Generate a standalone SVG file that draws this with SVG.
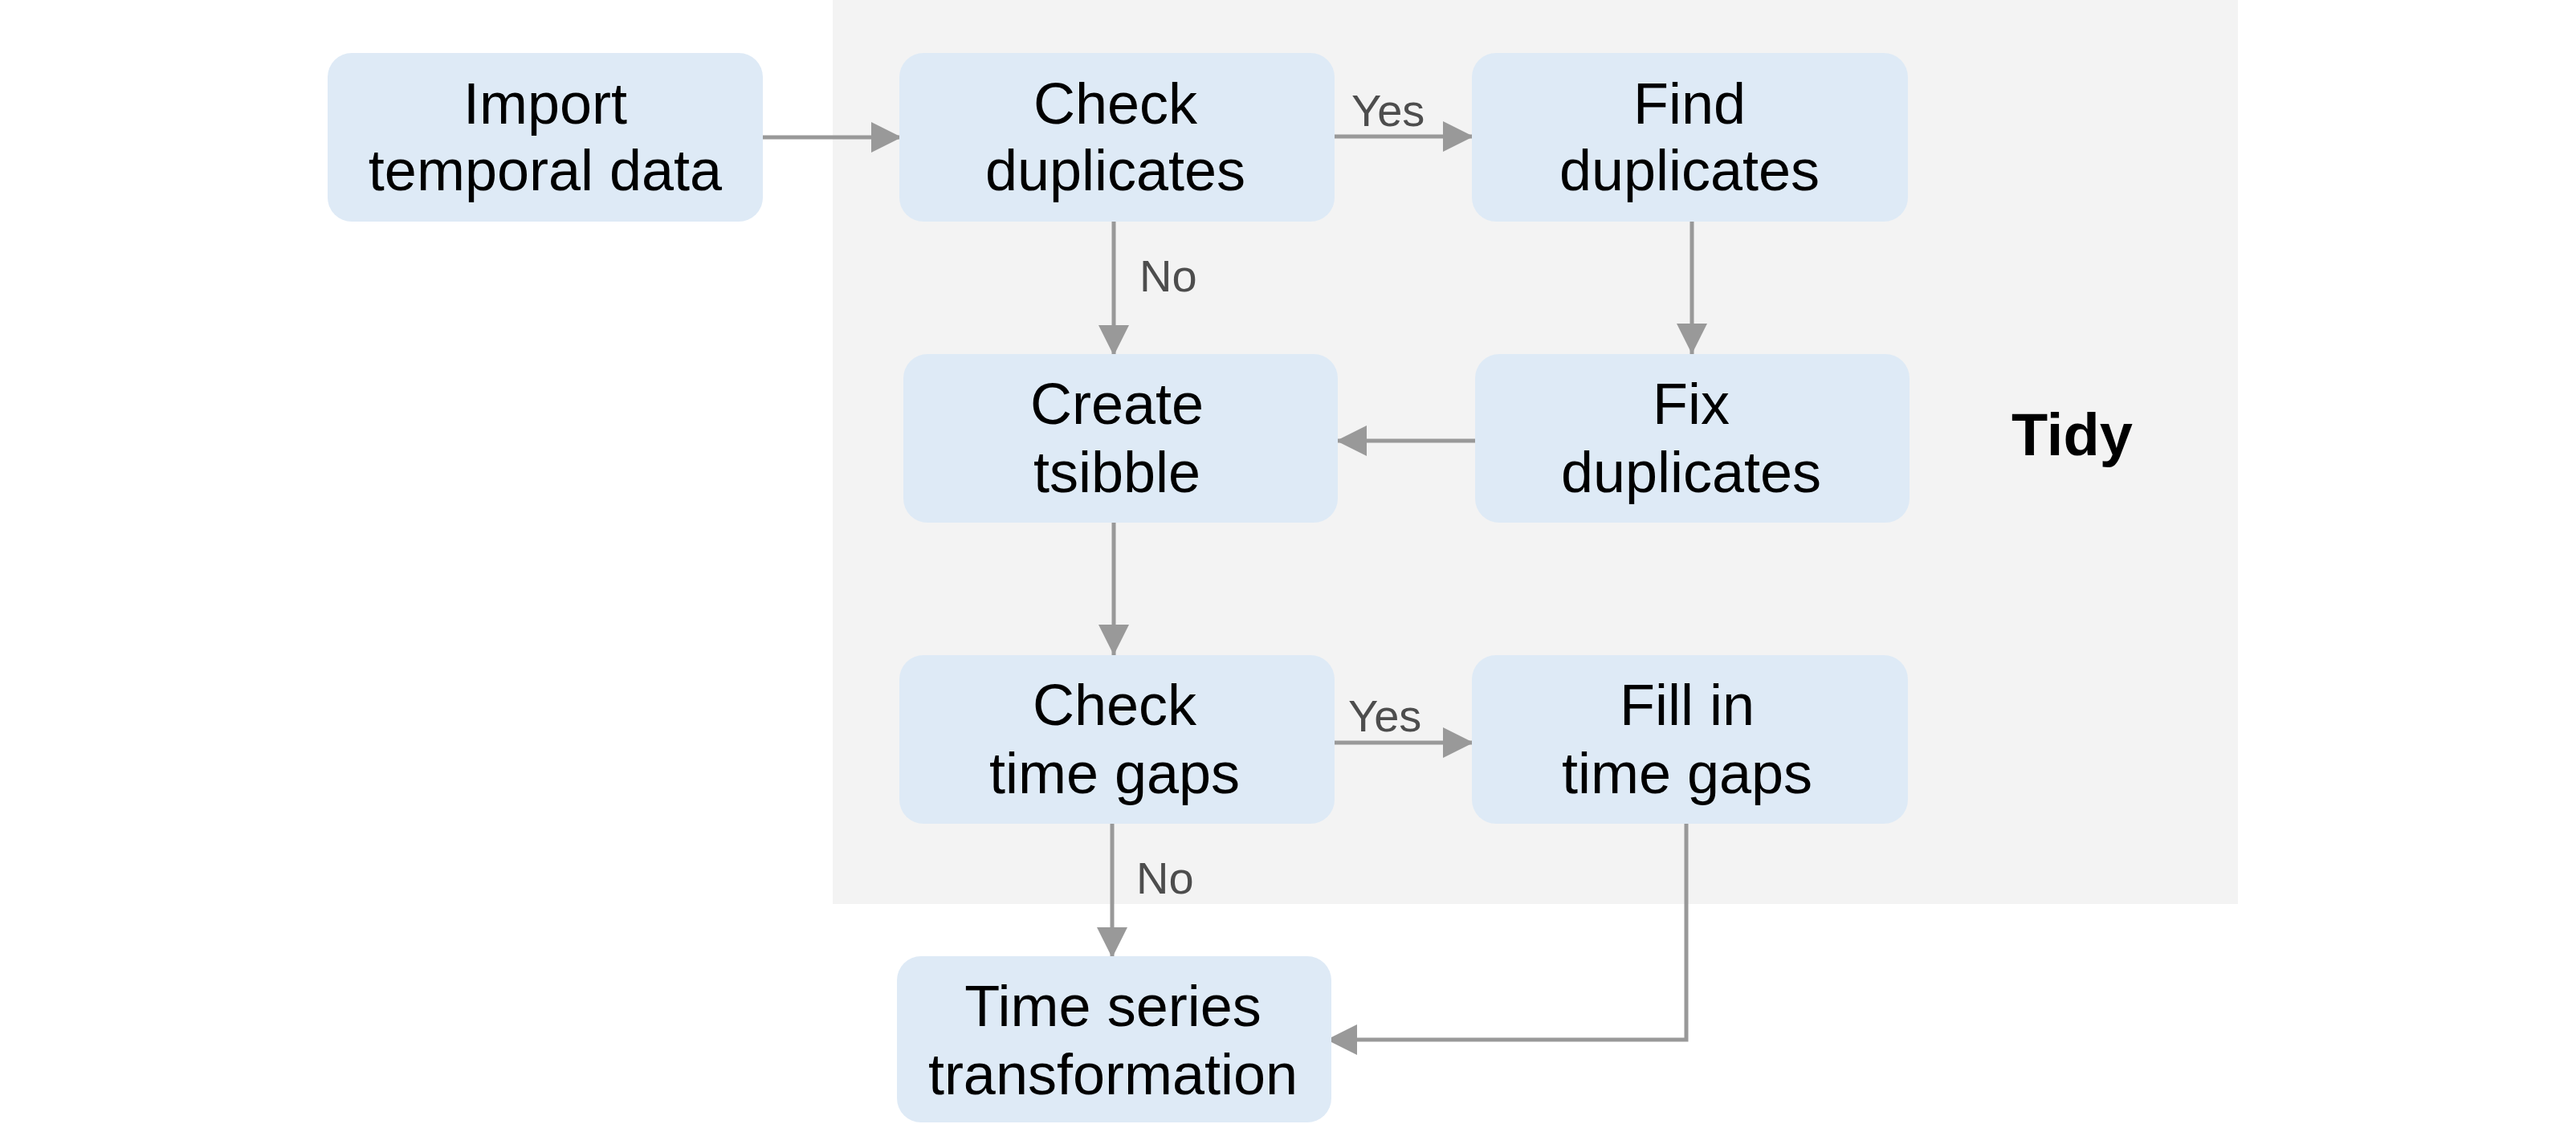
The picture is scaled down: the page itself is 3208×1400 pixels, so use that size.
<svg xmlns="http://www.w3.org/2000/svg" width="3208" height="1400" viewBox="0 0 3208 1400">
<style>
.node rect{fill:#deeaf6;}
.node text{font-family:"Liberation Sans",Arial,sans-serif;font-size:72px;fill:#000;text-anchor:middle;}
.lbl{font-family:"Liberation Sans",Arial,sans-serif;font-size:56px;fill:#4d4d4d;}
.conn{fill:none;stroke:#999;stroke-width:5;}
.title{font-family:"Liberation Sans",Arial,sans-serif;font-size:74px;font-weight:bold;fill:#000;}
</style>
<defs>
<marker id="ah" markerUnits="userSpaceOnUse" markerWidth="38" markerHeight="38" refX="38" refY="19" orient="auto">
<path d="M0,0 L38,19 L0,38 z" fill="#999"/>
</marker>
</defs>
<rect x="0" y="0" width="3208" height="1400" fill="#fff"/>
<g id="tidy-group">
<rect x="1037" y="0" width="1750" height="1126" fill="#f3f3f3"/>
<text class="title" x="2505" y="567">Tidy</text>
</g>
<g id="connectors">
<line class="conn" x1="950" y1="171" x2="1123" y2="171" marker-end="url(#ah)"/>
<line class="conn" x1="1662" y1="170" x2="1835" y2="170" marker-end="url(#ah)"/>
<text class="lbl" x="1683" y="157">Yes</text>
<line class="conn" x1="1387" y1="272" x2="1387" y2="443" marker-end="url(#ah)"/>
<text class="lbl" x="1419" y="363">No</text>
<line class="conn" x1="2107" y1="272" x2="2107" y2="441" marker-end="url(#ah)"/>
<line class="conn" x1="1837" y1="549" x2="1664" y2="549" marker-end="url(#ah)"/>
<line class="conn" x1="1387" y1="647" x2="1387" y2="816" marker-end="url(#ah)"/>
<line class="conn" x1="1662" y1="925" x2="1835" y2="925" marker-end="url(#ah)"/>
<text class="lbl" x="1679" y="911">Yes</text>
<line class="conn" x1="1385" y1="1022" x2="1385" y2="1193" marker-end="url(#ah)"/>
<text class="lbl" x="1415" y="1113">No</text>
<polyline class="conn" points="2100,1024 2100,1295 1652,1295" marker-end="url(#ah)"/>
</g>
<g id="import" class="node">
<rect x="408" y="66" width="542" height="210" rx="30"/>
<text x="679" y="154">Import</text>
<text x="679" y="237">temporal data</text>
</g>
<g id="check-duplicates" class="node">
<rect x="1120" y="66" width="542" height="210" rx="30"/>
<text x="1389" y="154">Check</text>
<text x="1389" y="237">duplicates</text>
</g>
<g id="find-duplicates" class="node">
<rect x="1833" y="66" width="543" height="210" rx="30"/>
<text x="2104" y="154">Find</text>
<text x="2104" y="237">duplicates</text>
</g>
<g id="create-tsibble" class="node">
<rect x="1125" y="441" width="541" height="210" rx="30"/>
<text x="1391" y="528">Create</text>
<text x="1391" y="613">tsibble</text>
</g>
<g id="fix-duplicates" class="node">
<rect x="1837" y="441" width="541" height="210" rx="30"/>
<text x="2106" y="528">Fix</text>
<text x="2106" y="613">duplicates</text>
</g>
<g id="check-time-gaps" class="node">
<rect x="1120" y="816" width="542" height="210" rx="30"/>
<text x="1388" y="903">Check</text>
<text x="1388" y="988">time gaps</text>
</g>
<g id="fill-time-gaps" class="node">
<rect x="1833" y="816" width="543" height="210" rx="30"/>
<text x="2101" y="903">Fill in</text>
<text x="2101" y="988">time gaps</text>
</g>
<g id="time-series-transformation" class="node">
<rect x="1117" y="1191" width="541" height="207" rx="30"/>
<text x="1386" y="1278">Time series</text>
<text x="1386" y="1363">transformation</text>
</g>
</svg>
